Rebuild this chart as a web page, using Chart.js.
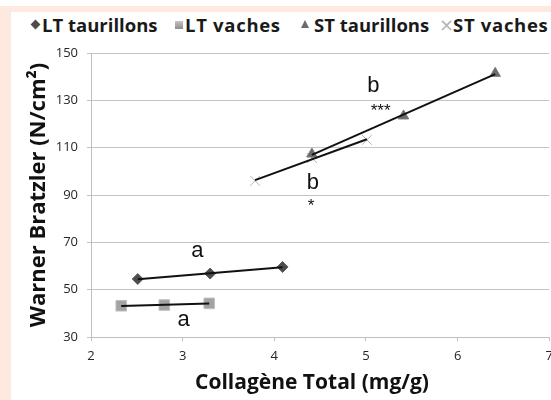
<!DOCTYPE html>
<html>
<head>
<meta charset="utf-8">
<script src="https://cdn.jsdelivr.net/npm/chart.js@4.4.1/dist/chart.umd.min.js"></script>
<style>
	html, body { margin: 0; padding: 0; width: 551px; height: 400px; overflow: hidden; background: #fff; }
	.frame { position: absolute; left: 0; top: 6px; width: 551px; height: 394px; background: #fde9df; }
	.panel { position: absolute; left: 11px; top: 12px; width: 540px; height: 388px; background: #fff; }
	.wrap { position: absolute; left: 0; top: 0; width: 560px; height: 400px; }
	.legend { position: absolute; left: 0; top: 14px; width: 551px; height: 22px; font: bold 18.5px "Open Sans", sans-serif; color: #1a1a1a; white-space: nowrap; }
	.legend span { position: absolute; top: 0; line-height: 22px; }
	.legend .wide { letter-spacing: 0.7px; }
	.legend .dia { top: 7px; width: 7px; height: 7px; background: #4d4d4d; transform: rotate(45deg); }
	.legend .sq { top: 7px; width: 8px; height: 8px; background: linear-gradient(#c4c4c4, #8e8e8e); }
	.legend .tri { top: 6px; width: 0; height: 0; border-left: 4.5px solid transparent; border-right: 4.5px solid transparent; border-bottom: 8px solid #6b6b6b; }
	.legend .x { font: normal 18px "DejaVu Sans", sans-serif; color: #b3b3b3; }
</style>
</head>
<body>
<div class="frame"></div>
<div class="panel"></div>
<div class="legend">
	<span class="dia" style="left:32px"></span><span style="left:42px">LT taurillons</span>
	<span class="sq" style="left:175px"></span><span class="wide" style="left:185px">LT vaches</span>
	<span class="tri" style="left:301px"></span><span style="left:314px">ST taurillons</span>
	<span class="x" style="left:439px">×</span><span class="wide" style="left:453px">ST vaches</span>
</div>
<div class="wrap"><canvas id="chart"></canvas></div>
<script>
// collagène total (mg/g) vs Warner Bratzler force (N/cm²)
const ltTaurillonsX = [2.51, 3.30, 4.09];
const ltTaurillonsY = [54.5, 56.8, 59.6];
const ltVachesX = [2.33, 2.80, 3.29];
const ltVachesY = [43.2, 43.5, 44.2];
const stTaurillonsX = [4.41, 5.41, 6.41];
const stTaurillonsY = [107.3, 123.4, 141.4];
const stVachesX = [3.79, 4.41, 5.01];
const stVachesY = [96.0, 105.6, 113.3];

const xTicks = [2, 3, 4, 5, 6, 7];
const yTicks = [30, 50, 70, 90, 110, 130, 150];

// significance letters and stars, in data units
const letterText = ['a', 'a', 'b', '***', 'b', '*'];
const letterX = [3.16, 3.01, 5.08, 5.16, 4.42, 4.40];
const letterY = [66.5, 37.3, 136.1, 125.5, 95.1, 85.4];

const xTitle = 'Collagène Total (mg/g)';

const toPoints = (xs, ys) => xs.map((x, i) => ({ x: x, y: ys[i] }));

// least squares line over the range of the series
const trend = (xs, ys) => {
	const n = xs.length;
	const mx = xs.reduce((a, b) => a + b, 0) / n;
	const my = ys.reduce((a, b) => a + b, 0) / n;
	let sxy = 0, sxx = 0;
	xs.forEach((x, i) => { sxy += (x - mx) * (ys[i] - my); sxx += (x - mx) * (x - mx); });
	const slope = sxy / sxx;
	const lo = Math.min(...xs), hi = Math.max(...xs);
	return [{ x: lo, y: my + slope * (lo - mx) }, { x: hi, y: my + slope * (hi - mx) }];
};

const trendSet = (xs, ys) => ({
	data: trend(xs, ys),
	showLine: true,
	borderColor: '#111',
	borderWidth: 2,
	pointRadius: 0,
	order: 0,
});

const markerSet = (label, xs, ys, style, radius, fill, stroke) => ({
	label: label,
	data: toPoints(xs, ys),
	pointStyle: style,
	pointRadius: radius,
	backgroundColor: fill,
	borderColor: stroke,
	pointBorderWidth: 1,
	order: 1,
});

const letters = {
	id: 'letters',
	afterDatasetsDraw(chart) {
		const { ctx, scales } = chart;
		ctx.save();
		ctx.fillStyle = '#111';
		ctx.textAlign = 'center';
		ctx.textBaseline = 'middle';
		letterText.forEach((t, i) => {
			ctx.font = t.includes('*') ? '17px "Liberation Sans"' : '22px "Liberation Sans"';
			ctx.fillText(t, scales.x.getPixelForValue(letterX[i]), scales.y.getPixelForValue(letterY[i]));
		});
		// x axis title sits a little left of the plot centre
		ctx.font = 'bold 21px "Open Sans"';
		ctx.fillText(xTitle, 312, 383);
		ctx.restore();
	},
};

Chart.defaults.font.family = '"Open Sans"';

new Chart(document.getElementById('chart'), {
	type: 'scatter',
	data: {
		datasets: [
			trendSet(ltTaurillonsX, ltTaurillonsY),
			trendSet(ltVachesX, ltVachesY),
			trendSet(stTaurillonsX, stTaurillonsY),
			trendSet(stVachesX, stVachesY),
			markerSet('LT taurillons', ltTaurillonsX, ltTaurillonsY, 'rectRot', 5.5, '#4d4d4d', '#5e5e5e'),
			markerSet('LT vaches', ltVachesX, ltVachesY, 'rect', 7.5, '#a3a3a3', '#c2c2c2'),
			markerSet('ST taurillons', stTaurillonsX, stTaurillonsY, 'triangle', 6, '#6b6b6b', '#7a7a7a'),
			markerSet('ST vaches', stVachesX, stVachesY, 'crossRot', 7, '#b3b3b3', '#b3b3b3'),
		],
	},
	options: {
		responsive: true,
		maintainAspectRatio: false,
		animation: false,
		layout: { padding: { top: 53, right: 8, bottom: 0, left: 0 } },
		plugins: { legend: { display: false }, tooltip: { enabled: false } },
		scales: {
			x: {
				type: 'linear',
				min: 2,
				max: 7,
				afterBuildTicks: (scale) => { scale.ticks = xTicks.map((v) => ({ value: v })); },
				afterFit: (scale) => { scale.height = 63; },
				grid: { drawOnChartArea: false, tickLength: 4, color: '#bfbfbf' },
				border: { color: '#bfbfbf' },
				ticks: { padding: 7, color: '#262626', font: { size: 13 } },
			},
			y: {
				min: 30,
				max: 150,
				afterBuildTicks: (scale) => { scale.ticks = yTicks.map((v) => ({ value: v })); },
				afterFit: (scale) => { scale.width = 91; },
				grid: { tickLength: 4, color: '#c4c4c4' },
				border: { color: '#bfbfbf' },
				ticks: { padding: 9, color: '#262626', font: { size: 13 } },
				title: {
					display: true,
					text: 'Warner Bratzler (N/cm²)',
					color: '#111',
					padding: { top: 26, bottom: 0 },
					font: { size: 22, weight: 'bold' },
				},
			},
		},
	},
	plugins: [letters],
});
</script>
</body>
</html>
